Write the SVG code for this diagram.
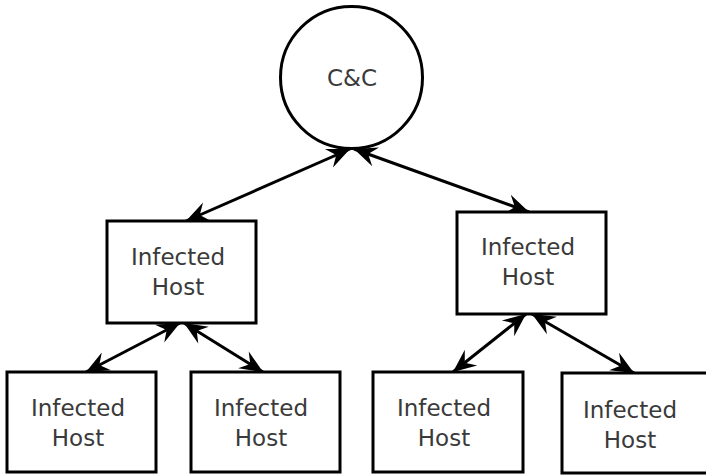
<svg xmlns="http://www.w3.org/2000/svg" width="706" height="475" viewBox="0 0 706 475">
  <defs>
    <style>
      .node { fill: #ffffff; stroke: #000000; stroke-width: 3; }
      .label { font-family: "DejaVu Sans", "Liberation Sans", sans-serif; font-size: 23px; fill: #3a3a3a; text-anchor: middle; }
      .link { fill: none; stroke: #000000; stroke-width: 3; marker-start: url(#head); marker-end: url(#head); }
    </style>
    <!-- concave filled arrowhead, used at both ends of every link -->
    <marker id="head" viewBox="-24 -11 26 22" refX="0" refY="0" markerWidth="26" markerHeight="22" markerUnits="userSpaceOnUse" orient="auto-start-reverse">
      <path d="M0,0 L-23,-10 L-15,0 L-23,10 Z" fill="#000000"/>
    </marker>
  </defs>
  <rect width="706" height="475" fill="#ffffff"/>

  <g id="connectors">
    <line class="link" x1="350" y1="149" x2="186" y2="221"/>
    <line class="link" x1="354" y1="149" x2="529" y2="212"/>
    <line class="link" x1="180" y1="323" x2="86" y2="372"/>
    <line class="link" x1="184" y1="323" x2="263" y2="372"/>
    <line class="link" x1="526" y1="314" x2="453" y2="372"/>
    <line class="link" x1="532" y1="314" x2="634" y2="373"/>
  </g>

  <g id="cc">
    <circle class="node" cx="351.5" cy="77.5" r="71"/>
    <text class="label" x="352" y="86">C&amp;C</text>
  </g>

  <g id="host-mid-left">
    <rect class="node" x="107" y="221" width="149" height="102"/>
    <text class="label" x="178" y="265">Infected</text>
    <text class="label" x="178" y="295">Host</text>
  </g>

  <g id="host-mid-right">
    <rect class="node" x="457" y="212" width="149" height="102"/>
    <text class="label" x="528" y="255">Infected</text>
    <text class="label" x="528" y="285">Host</text>
  </g>

  <g id="host-bottom-1">
    <rect class="node" x="7" y="372" width="149" height="100"/>
    <text class="label" x="78" y="416">Infected</text>
    <text class="label" x="78" y="446">Host</text>
  </g>

  <g id="host-bottom-2">
    <rect class="node" x="191" y="372" width="149" height="100"/>
    <text class="label" x="261" y="416">Infected</text>
    <text class="label" x="261" y="446">Host</text>
  </g>

  <g id="host-bottom-3">
    <rect class="node" x="373" y="372" width="150" height="100"/>
    <text class="label" x="444" y="416">Infected</text>
    <text class="label" x="444" y="446">Host</text>
  </g>

  <g id="host-bottom-4">
    <rect class="node" x="562" y="373" width="150" height="100"/>
    <text class="label" x="630" y="418">Infected</text>
    <text class="label" x="630" y="448">Host</text>
  </g>
</svg>
